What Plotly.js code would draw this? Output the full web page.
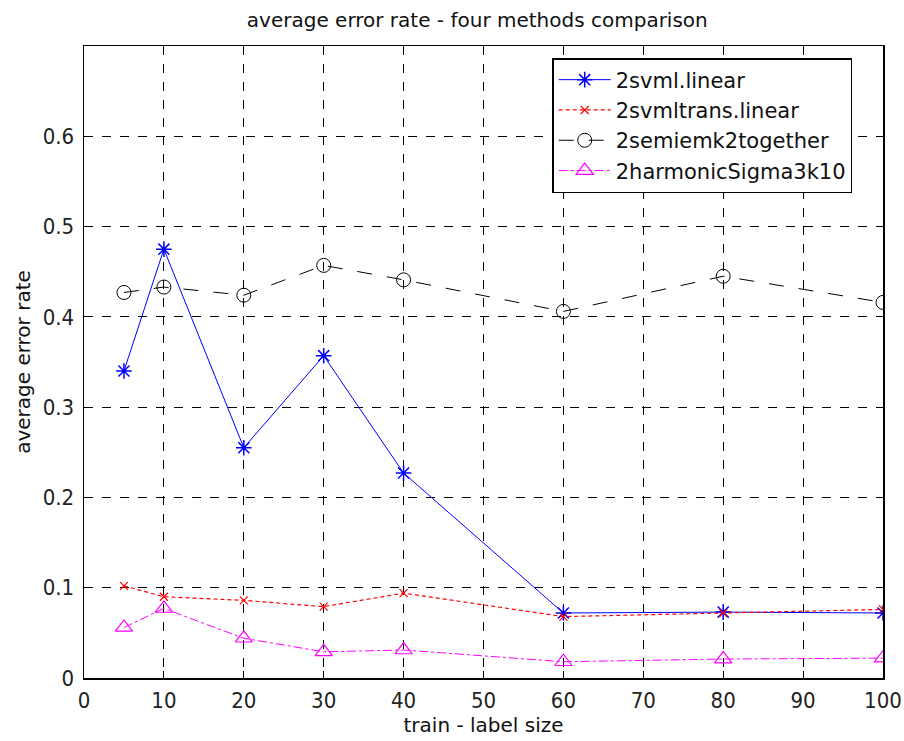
<!DOCTYPE html>
<html><head><meta charset="utf-8">
<script src="https://cdn.plot.ly/plotly-3.0.1.min.js"></script>
<style>body{margin:0;background:#fff}#c{width:904px;height:741px}</style>
</head><body><div id="c"></div>
<script>
const xVals = [5, 10, 20, 30, 40, 60, 80, 100];
const svmlLinear = [0.340, 0.475, 0.255, 0.357, 0.227, 0.072, 0.073, 0.072];
const svmlTrans = [0.102, 0.090, 0.086, 0.079, 0.094, 0.068, 0.072, 0.076];
const semiem = [0.427, 0.433, 0.424, 0.457, 0.441, 0.406, 0.445, 0.416];
const harmonic = [0.056, 0.077, 0.044, 0.029, 0.031, 0.018, 0.021, 0.022];
const names = ['2svml.linear', '2svmltrans.linear', '2semiemk2together', '2harmonicSigma3k10'];
const xTicks = [0,10,20,30,40,50,60,70,80,90,100];
const yTicks = [0,0.1,0.2,0.3,0.4,0.5,0.6];

const traces = [
 {x:xVals,y:svmlLinear,name:names[0],mode:'lines+markers',line:{color:'#0000ff',width:1},marker:{symbol:'asterisk-open',size:13,color:'#0000ff',line:{color:'#0000ff',width:1.5}}},
 {x:xVals,y:svmlTrans,name:names[1],mode:'lines+markers',line:{color:'#ff0000',width:1.2,dash:'4px,3px'},marker:{symbol:'x-thin-open',size:8,color:'#ff0000',line:{color:'#ff0000',width:1.2}}},
 {x:xVals,y:semiem,name:names[2],mode:'lines+markers',line:{color:'#000000',width:1,dash:'longdash'},marker:{symbol:'circle-open',size:14,color:'#000000',line:{color:'#000000',width:1}}},
 {x:xVals,y:harmonic,name:names[3],mode:'lines+markers',line:{color:'#ff00ff',width:1,dash:'dashdot'},marker:{symbol:'triangle-up-open',size:15,color:'#ff00ff',line:{color:'#ff00ff',width:1.2}}}
];

const tickFont = {family:'DejaVu Sans Condensed, DejaVu Sans, sans-serif',size:22,color:'#222'};
const labFont = {family:'DejaVu Sans, sans-serif',size:20,color:'#111'};
const layout = {
 width:904,height:741,
 margin:{l:84,r:21,t:46,b:63},
 paper_bgcolor:'#fff',plot_bgcolor:'#fff',
 title:{text:'average error rate - four methods comparison',font:{family:'DejaVu Sans, sans-serif',size:20,color:'#111'},x:0.528,xanchor:'center',y:0.973,yanchor:'middle'},
 xaxis:{range:[0,100],tickvals:xTicks,ticktext:xTicks.map(String),ticks:'inside',ticklen:7,tickcolor:'#000',mirror:'ticks',showline:true,linecolor:'#000',linewidth:1.5,
   showgrid:true,gridcolor:'#000',griddash:'dash',gridwidth:1,zeroline:false,tickfont:tickFont,ticklabelstandoff:2,
   title:{text:'train - label size',font:labFont,standoff:4}},
 yaxis:{range:[0,0.7],tickvals:yTicks,ticktext:yTicks.map(v=>String(v)),ticks:'inside',ticklen:7,tickcolor:'#000',mirror:'ticks',showline:true,linecolor:'#000',linewidth:1.5,
   showgrid:true,gridcolor:'#000',griddash:'dash',gridwidth:1,zeroline:false,tickfont:tickFont,ticklabelstandoff:4,
   title:{text:'average error rate',font:labFont,standoff:6}},
 legend:{x:0.586,y:0.981,xanchor:'left',yanchor:'top',bgcolor:'#fff',bordercolor:'#000',borderwidth:1.5,
   font:{family:'DejaVu Sans, sans-serif',size:21,color:'#111'},tracegroupgap:0,itemwidth:52},
 showlegend:true
};
Plotly.newPlot('c',traces,layout,{displayModeBar:false,staticPlot:true});
</script></body></html>
